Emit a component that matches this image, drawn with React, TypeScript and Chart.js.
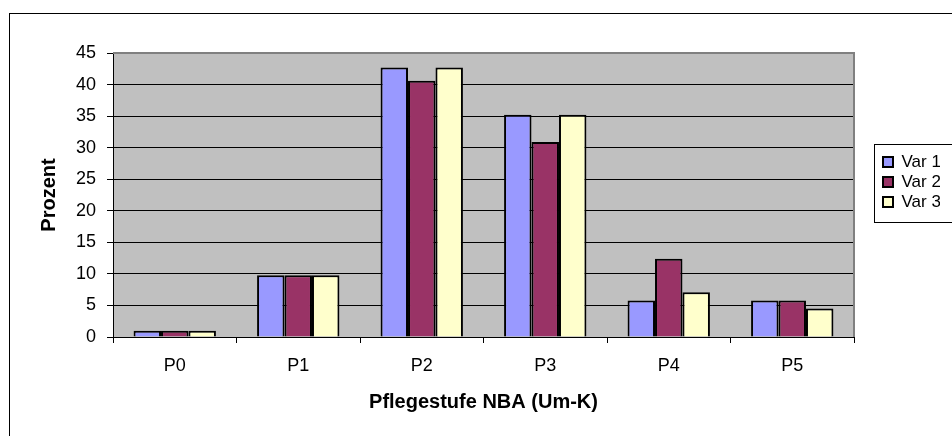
import React, { useEffect, useRef } from "react";
import { Chart, registerables } from "chart.js";

Chart.register(...registerables);

const categories = ["P0", "P1", "P2", "P3", "P4", "P5"];
const seriesNames = ["Var 1", "Var 2", "Var 3"];
const var1 = [1, 9.8, 42.7, 35.2, 5.8, 5.8];
const var2 = [1, 9.8, 40.6, 30.9, 12.4, 5.8];
const var3 = [1, 9.8, 42.7, 35.2, 7.1, 4.5];
const seriesColors = ["#9999FF", "#993366", "#FFFFCC"];
const yMin = 0;
const yMax = 45;
const yStep = 5;
const xTitle = "Pflegestufe NBA (Um-K)";
const yTitle = "Prozent";

const FONT = "'Liberation Sans', Arial, sans-serif";

const excelPlugin = {
  id: "excelLook",
  afterLayout(chart: any) {
    const lg = chart.legend;
    if (lg) {
      lg.left += 26;
      lg.right += 26;
      lg.top -= 13;
      lg.bottom -= 13;
    }
  },
  beforeDraw(chart: any) {
    const { ctx, chartArea: a } = chart;
    ctx.save();
    ctx.fillStyle = "#ffffff";
    ctx.fillRect(0, 0, chart.width, chart.height);
    ctx.strokeStyle = "#000000";
    ctx.lineWidth = 1;
    ctx.strokeRect(9.5, 13.5, 3000, 3000);
    ctx.fillStyle = "#C0C0C0";
    ctx.fillRect(a.left, a.top, a.right - a.left, a.bottom - a.top);
    ctx.restore();
  },
  beforeDatasetsDraw(chart: any) {
    const { ctx, chartArea: a } = chart;
    ctx.save();
    ctx.strokeStyle = "#808080";
    ctx.lineWidth = 2;
    ctx.beginPath();
    ctx.moveTo(a.left, a.top);
    ctx.lineTo(a.right, a.top);
    ctx.lineTo(a.right, a.bottom);
    ctx.stroke();
    ctx.restore();
  },
  afterDraw(chart: any) {
    const lg = chart.legend;
    if (!lg || !lg.legendHitBoxes || !lg.legendHitBoxes.length) return;
    const hb = lg.legendHitBoxes;
    const first = hb[0];
    const last = hb[hb.length - 1];
    const { ctx } = chart;
    const c0 = first.top + first.height / 2;
    const c1 = last.top + last.height / 2;
    ctx.save();
    ctx.strokeStyle = "#000000";
    ctx.lineWidth = 1;
    const x = Math.round(lg.left - 6) + 0.5;
    const y = Math.round(c0 - 18) + 0.5;
    const h = Math.round(c1 - c0 + 38);
    ctx.strokeRect(x, y, 400, h);
    ctx.restore();
  },
};

export default function App() {
  const ref = useRef<HTMLCanvasElement | null>(null);

  useEffect(() => {
    document.body.style.margin = "0";
    const canvas = ref.current;
    if (!canvas) return;
    const data = [var1, var2, var3];
    const chart = new Chart(canvas, {
      type: "bar",
      data: {
        labels: categories,
        datasets: seriesNames.map((name, i) => ({
          label: name,
          data: data[i],
          backgroundColor: seriesColors[i],
          borderColor: "#000000",
          borderWidth: 2,
          categoryPercentage: 0.667,
          barPercentage: 1.0,
        })),
      },
      options: {
        responsive: false,
        animation: false,
        devicePixelRatio: 1,
        layout: { padding: { left: 10, top: 53, right: 38, bottom: 0 } },
        plugins: {
          tooltip: { enabled: false },
          legend: {
            position: "right",
            fullSize: false,
            maxWidth: 60,
            labels: {
              boxWidth: 10,
              boxHeight: 10,
              padding: 3,
              color: "#000000",
              font: { size: 17, family: FONT },
            },
          },
        },
        scales: {
          x: {
            afterFit: (s: any) => {
              s.height = 99;
            },
            grid: {
              display: true,
              drawOnChartArea: false,
              drawTicks: true,
              tickLength: 6,
              color: "#000000",
              offset: true,
            },
            border: { display: true, color: "#000000", width: 1 },
            ticks: {
              color: "#000000",
              padding: 12,
              font: { size: 18, family: FONT },
            },
            title: {
              display: true,
              text: xTitle,
              color: "#000000",
              font: { size: 20, family: FONT, weight: "bold" },
              padding: { top: 0, bottom: 22 },
            },
          },
          y: {
            min: yMin,
            max: yMax,
            afterFit: (s: any) => {
              s.width = 103;
            },
            grid: {
              color: "#000000",
              lineWidth: 1,
              tickLength: 6,
              drawTicks: true,
            },
            border: { display: true, color: "#000000", width: 1 },
            ticks: {
              stepSize: yStep,
              color: "#000000",
              padding: 11,
              font: { size: 18, family: FONT },
            },
            title: {
              display: true,
              text: yTitle,
              color: "#000000",
              font: { size: 20, family: FONT, weight: "bold" },
              padding: { top: 27, bottom: 0 },
            },
          },
        },
      },
      plugins: [excelPlugin],
    });
    return () => chart.destroy();
  }, []);

  return (
    <div
      style={{
        position: "fixed",
        left: 0,
        top: 0,
        width: 952,
        height: 436,
        overflow: "hidden",
        background: "#fff",
      }}
    >
      <canvas ref={ref} width={952} height={436} style={{ display: "block" }} />
    </div>
  );
}
